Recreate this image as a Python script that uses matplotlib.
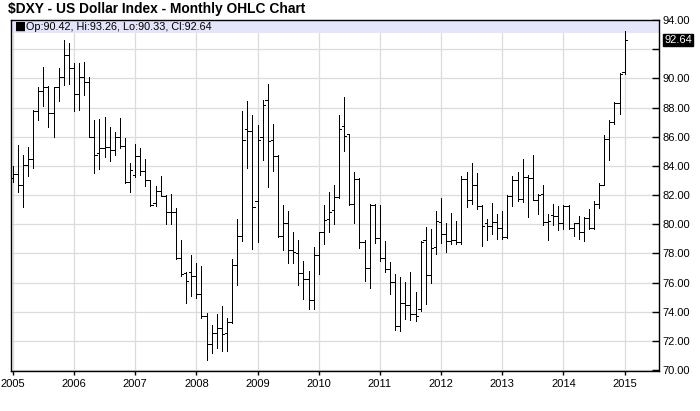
import numpy as np
import pandas as pd
import matplotlib
matplotlib.use("Agg")
import matplotlib.pyplot as plt
from matplotlib.ticker import FixedLocator, FuncFormatter

plt.rcParams['font.family'] = ['Liberation Sans', 'DejaVu Sans']

months = pd.date_range('2005-01-01', periods=121, freq='MS')

opens = [
    83.2, 83.43, 82.7, 84.07, 84.48, 87.77, 89.14, 89.4, 87.63, 89.4, 90.13, 91.6,
    90.74, 88.91, 90.13, 89.78, 85.97, 84.87, 85.21, 85.28, 85.1, 86.0, 85.36, 82.88,
    83.4, 84.67, 83.64, 83.0, 81.46, 82.31, 81.94, 80.84, 80.84, 77.68, 76.65, 76.7,
    76.42, 75.23, 73.72, 71.77, 72.53, 72.87, 72.53, 73.28, 77.19, 79.18, 86.5, 86.4,
    81.6, 86.0, 88.55, 85.76, 84.7, 79.18, 80.1, 78.26, 78.06, 76.67, 76.27, 74.8,
    77.87, 79.47, 80.33, 81.0, 81.84, 86.72, 86.2, 81.42, 83.07, 78.8, 77.02, 81.31,
    79.03, 77.7, 76.93, 76.06, 73.05, 74.58, 74.46, 73.82, 74.2, 78.91, 76.52, 78.43,
    80.14, 79.34, 78.84, 78.95, 78.79, 83.12, 81.65, 82.66, 81.24, 80.1, 79.91, 80.14,
    79.75, 79.13, 81.97, 83.0, 81.7, 83.25, 83.18, 81.65, 82.1, 80.16, 80.62, 80.57,
    80.11, 81.26, 79.77, 80.05, 79.47, 80.43, 79.75, 81.42, 82.72, 85.87, 87.02, 88.34,
    90.42,
]
highs = [
    84.0, 85.44, 84.75, 85.33, 87.84, 89.44, 90.77, 89.45, 89.4, 90.7, 92.64, 92.4,
    91.04, 91.04, 91.15, 90.13, 87.15, 87.2, 87.34, 86.7, 86.3, 87.3, 85.93, 84.21,
    85.47, 85.24, 84.44, 83.05, 82.65, 83.34, 82.0, 82.1, 81.14, 78.94, 76.74, 77.87,
    77.34, 77.11, 73.9, 73.1, 73.83, 74.36, 73.56, 77.6, 80.34, 87.8, 88.43, 87.47,
    86.8, 88.5, 89.6, 86.86, 84.75, 81.35, 80.89, 79.5, 78.9, 77.46, 76.8, 78.45,
    79.5, 81.3, 82.2, 82.68, 87.47, 88.73, 86.22, 83.55, 83.18, 78.9, 81.42, 81.4,
    81.31, 78.84, 77.43, 76.56, 76.36, 76.06, 76.7, 75.33, 78.87, 79.78, 79.67, 80.9,
    81.81, 80.1, 80.74, 80.21, 83.3, 83.57, 84.17, 83.53, 81.3, 80.33, 81.47, 80.67,
    80.9, 82.02, 83.3, 83.57, 84.49, 83.41, 84.78, 82.1, 82.67, 80.73, 81.42, 81.23,
    81.35, 81.3, 80.1, 80.55, 80.5, 81.03, 81.58, 82.8, 86.15, 87.13, 88.4, 90.35,
    93.26,
]
lows = [
    82.9, 82.24, 81.21, 83.34, 83.84, 87.15, 88.11, 86.7, 86.01, 88.46, 89.55, 89.6,
    87.77, 87.84, 88.87, 85.97, 83.54, 83.77, 84.64, 84.37, 84.75, 85.2, 82.84, 82.2,
    83.25, 83.41, 82.61, 81.23, 81.23, 81.92, 80.02, 80.04, 77.6, 76.47, 74.59, 75.05,
    74.93, 73.56, 70.69, 71.15, 71.5, 71.27, 71.27, 73.2, 75.86, 78.86, 83.86, 78.3,
    78.8, 84.4, 82.56, 83.66, 79.1, 78.2, 77.35, 77.35, 75.8, 74.9, 74.15, 74.2,
    76.57, 78.67, 79.47, 79.99, 81.8, 85.03, 81.3, 80.05, 78.39, 76.1, 75.6, 78.7,
    77.48, 76.7, 75.19, 72.75, 72.68, 73.48, 73.43, 73.37, 74.07, 74.53, 75.95, 77.97,
    78.72, 78.08, 78.61, 78.61, 78.61, 81.17, 81.4, 81.01, 78.54, 78.95, 79.3, 79.0,
    79.0, 79.04, 81.24, 81.58, 81.5, 80.49, 81.7, 80.69, 79.98, 78.95, 79.93, 79.63,
    79.66, 79.66, 79.2, 79.0, 78.86, 79.7, 79.66, 81.12, 82.67, 84.43, 86.85, 87.59,
    90.33,
]
closes = [
    83.43, 82.7, 84.07, 84.48, 87.77, 89.14, 89.4, 87.63, 89.4, 90.13, 91.6, 90.74,
    88.91, 90.13, 89.78, 85.97, 84.75, 85.21, 85.28, 85.1, 86.0, 85.36, 82.88, 83.69,
    84.67, 83.64, 83.0, 81.33, 82.31, 81.94, 80.84, 80.84, 77.68, 76.6, 76.12, 76.42,
    75.23, 73.72, 71.77, 72.53, 72.87, 72.46, 73.28, 77.19, 79.18, 85.8, 86.4, 81.2,
    85.8, 88.2, 85.7, 84.7, 79.18, 80.05, 78.26, 78.1, 76.67, 76.27, 74.8, 77.87,
    79.47, 80.3, 80.85, 81.84, 86.56, 86.04, 81.42, 83.07, 78.8, 77.02, 81.31, 79.03,
    77.7, 76.93, 76.06, 73.05, 74.58, 74.46, 73.82, 73.73, 78.8, 76.52, 78.34, 80.21,
    79.34, 78.84, 78.95, 78.79, 83.12, 81.65, 82.66, 81.24, 79.87, 79.91, 80.14, 79.75,
    79.13, 81.97, 83.0, 81.7, 83.25, 83.18, 81.65, 81.99, 80.16, 80.21, 80.57, 80.11,
    81.26, 79.77, 80.05, 79.47, 80.43, 79.75, 81.42, 82.72, 85.87, 87.02, 88.34, 90.29,
    92.64,
]

y_ticks = np.arange(70, 95, 2)
year_ticks = list(range(2005, 2016))


def month_position(dates):
    return dates.year + (dates.month - 1) / 12.0


def draw_ohlc(axis, x, o, h, l, c, tick_width):
    # 0.72 pt is one pixel at 100 dpi
    style = dict(color='black', linewidth=0.72, zorder=3, antialiased=False)
    axis.vlines(x, l, h, **style)
    axis.hlines(o, x - tick_width, x, **style)
    axis.hlines(c, x, x + tick_width, **style)


fig = plt.figure(figsize=(7.0, 4.11), dpi=100)
ax = fig.add_axes([0.0153, 0.098, 0.9257, 0.853])

x = month_position(months)
draw_ohlc(ax, np.asarray(x), np.array(opens), np.array(highs),
          np.array(lows), np.array(closes), 0.45 / 12)

ax.set_xlim(2004.967, 2015.556)
ax.set_ylim(69.95, 94.0)

# grid
ax.xaxis.set_major_locator(FixedLocator(year_ticks))
ax.yaxis.set_major_locator(FixedLocator(y_ticks))
ax.grid(True, color='#dcdcdc', linewidth=0.9, zorder=0)
ax.set_axisbelow(True)

last_close = closes[-1]
ax.xaxis.set_major_formatter(FuncFormatter(lambda v, p: '%d' % v))
ax.yaxis.set_major_formatter(
    FuncFormatter(lambda v, p: '' if abs(v - last_close) < 1.0 else '%.2f' % v))

ax.yaxis.tick_right()
ax.tick_params(axis='y', direction='in', length=5, width=1, pad=3,
               labelsize=8, colors='black')
ax.tick_params(axis='x', direction='out', length=3, width=1, pad=3,
               labelsize=8)

for spine in ax.spines.values():
    spine.set_color('black')
    spine.set_linewidth(1.0)

# legend band across the top
ax.axhspan(93.1, 94.0, color='#e4e4fa', zorder=1, linewidth=0)
ax.text(0.006, 0.982, '\u25a0', transform=ax.transAxes, fontsize=8.5,
        va='center', ha='left', zorder=4, family=['DejaVu Sans'])
ax.text(0.024, 0.981, 'Op:%.2f, Hi:%.2f, Lo:%.2f, Cl:%.2f'
        % (opens[-1], highs[-1], lows[-1], closes[-1]),
        transform=ax.transAxes, fontsize=7.8, va='center', ha='left', zorder=4)

# last price marker on the right axis
ax.annotate('%.2f' % last_close, xy=(1.0, last_close),
            xycoords=('axes fraction', 'data'), xytext=(4, 0),
            textcoords='offset points', fontsize=8, color='white',
            va='center', ha='left',
            bbox=dict(boxstyle='square,pad=0.1', fc='black', ec='black'))

fig.text(0.012, 0.978, '$DXY - US Dollar Index - Monthly OHLC Chart',
         fontsize=9.9, fontweight='bold', va='center', ha='left')

fig.savefig('out.png', dpi=100)
plt.close(fig)
